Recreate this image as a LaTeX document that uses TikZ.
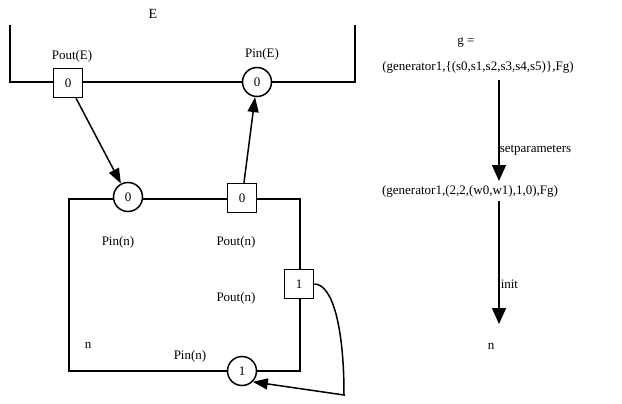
\documentclass[tikz,border=0pt]{standalone}
\usepackage{fontspec}
\setmainfont{Liberation Serif}
\usetikzlibrary{arrows.meta}
\begin{document}
\begin{tikzpicture}[x=1pt,y=-1pt, line width=1.5pt,
  font=\fontsize{13}{15}\selectfont,
  sq/.style={draw, fill=white, minimum width=29pt, minimum height=29pt, inner sep=0pt},
  cir/.style={draw, fill=white, circle, minimum size=29pt, inner sep=0pt},
  lbl/.style={inner sep=0pt},
  arr/.style={-{Triangle[width=11pt,length=15pt]}},
  bigarr/.style={-{Triangle[width=14pt,length=16pt]}}]
\useasboundingbox (0,0) rectangle (622,404);

% environment E
\draw (10,25) -- (10,82) -- (355,82) -- (355,25);
\node[lbl, font=\fontsize{14}{16}\selectfont] (E) at (153,14) {E};
\node[sq] (poE) at (68,83) {0};
\node[cir] (piE) at (257,82) {0};
\node[lbl] (lpoE) at (72,56) {Pout(E)};
\node[lbl] (lpiE) at (262,54) {Pin(E)};

% component n
\draw (69,199) rectangle (300,371);
\node[cir] (pin0) at (128,197) {0};
\node[sq] (pon0) at (242,198) {0};
\node[sq] (pon1) at (299,284) {1};
\node[cir] (pin1) at (242,371) {1};
\node[lbl] (lpin0) at (118,242) {Pin(n)};
\node[lbl] (lpon0) at (236,242) {Pout(n)};
\node[lbl] (lpon1) at (236,298) {Pout(n)};
\node[lbl] (ln) at (88,345) {n};
\node[lbl] (lpin1) at (190,356) {Pin(n)};

% connections
\draw[arr] (poE) -- (pin0);
\draw[arr] (pon0) -- (piE);
\coordinate (bend) at (344,395);
\draw[arr] (pon1.east) .. controls (332,284) and (344,325) .. (bend) -- (pin1.south east);

% right part
\node[lbl] (g) at (466,43) {g =};
\node[lbl] (gen1) at (478,67) {(generator1,\{(s0,s1,s2,s3,s4,s5)\},Fg)};
\node[lbl] (gen2) at (470,191) {(generator1,(2,2,(w0,w1),1,0),Fg)};
\node[lbl] (nr) at (491,346) {n};
\coordinate (a1s) at (499,80);
\coordinate (a1e) at (499,181);
\coordinate (a2s) at (499,201);
\coordinate (a2e) at (499,324);
\draw[bigarr] (a1s) -- (a1e);
\draw[bigarr] (a2s) -- (a2e);
\node[lbl, anchor=west] (setp) at (499,150) {setparameters};
\node[lbl, anchor=west] (init) at (500,284) {init};
\end{tikzpicture}
\end{document}
